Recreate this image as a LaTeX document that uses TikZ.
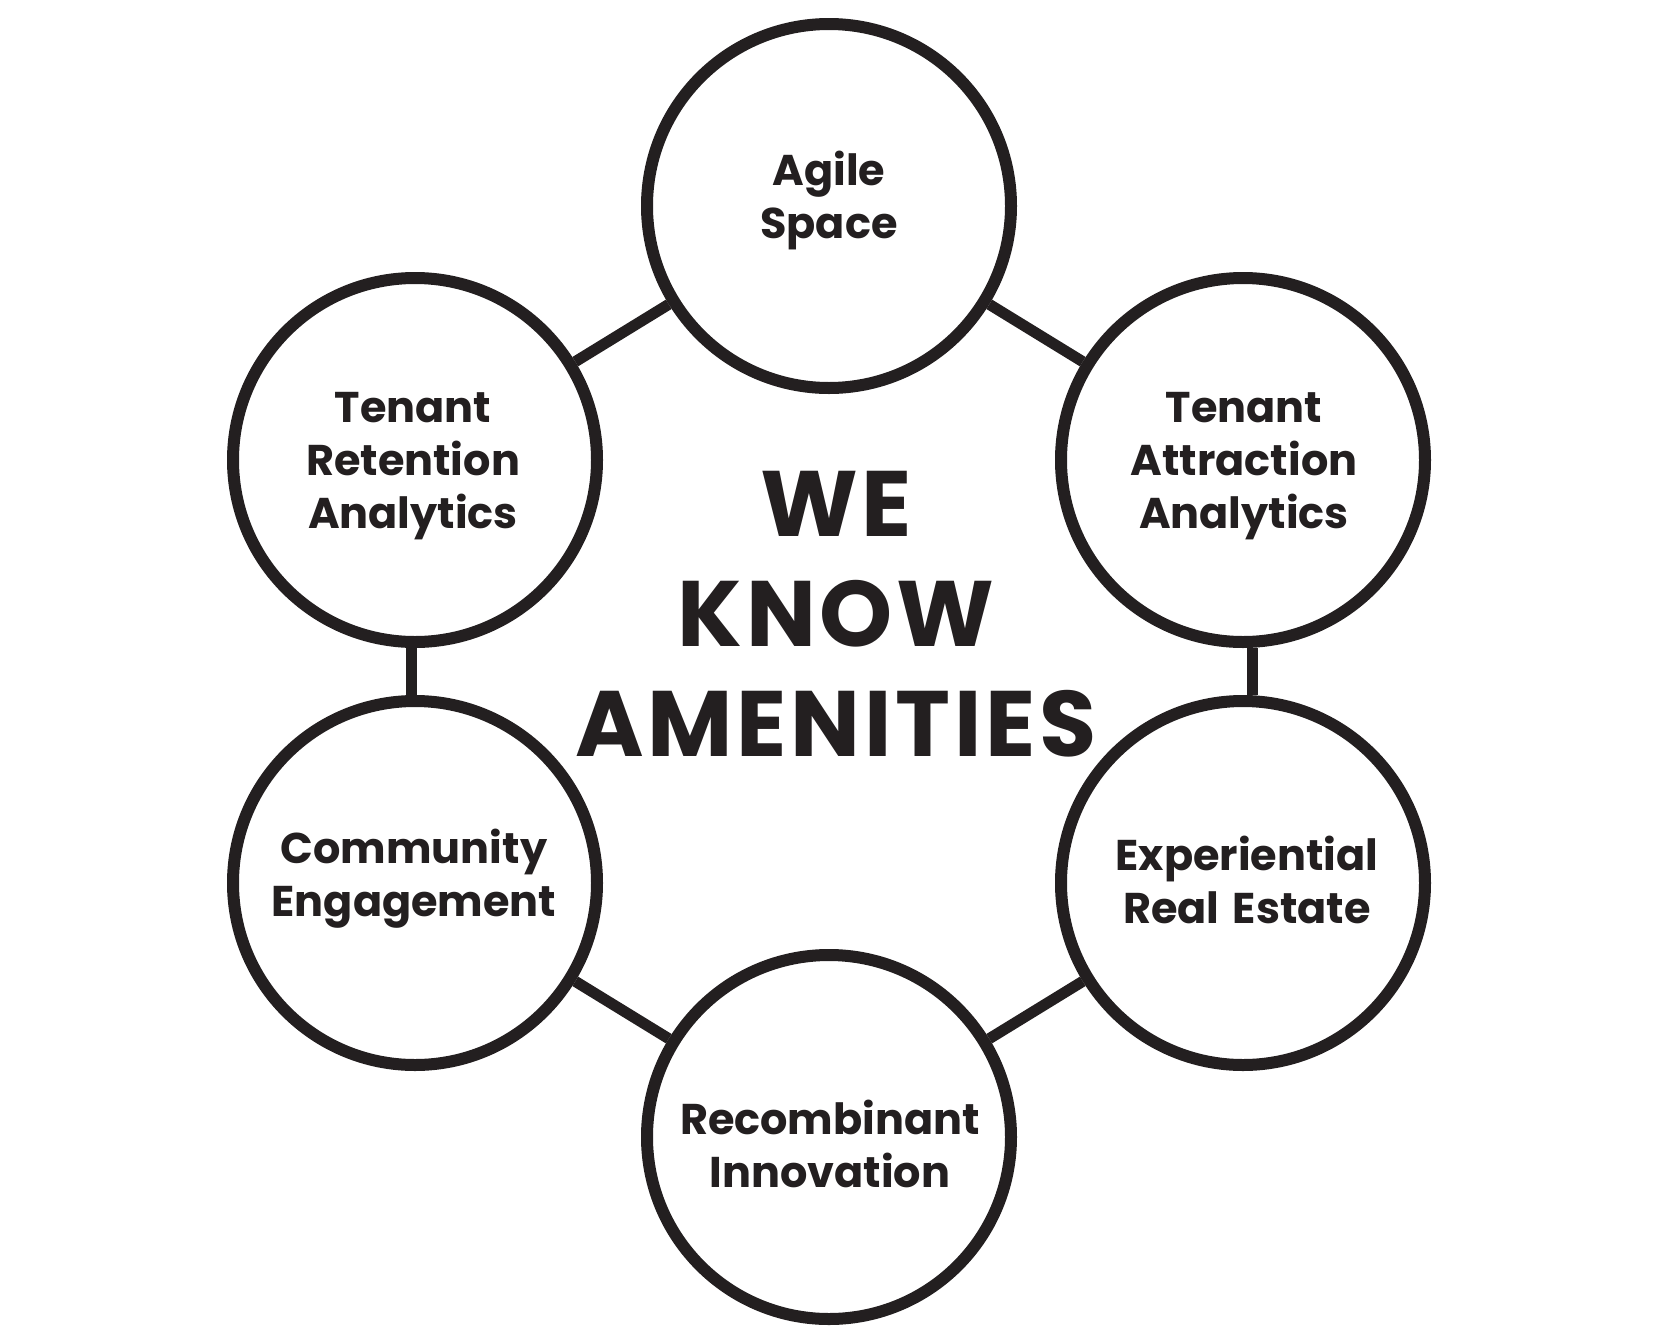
\documentclass[tikz,border=0pt]{standalone}
\usepackage{fontspec}
\setmainfont{Poppins}
\newfontfamily\titlefont{Poppins}[LetterSpace=4]
\definecolor{ink}{RGB}{35,31,32}
\tikzset{
  bubble/.style={circle, draw=ink, line width=12pt, minimum size=364pt, inner sep=0pt, fill=white},
  link/.style={draw=ink, line width=11pt},
  lbl/.style={font=\fontsize{43}{53}\selectfont\bfseries, align=center, anchor=base, inner sep=0pt, text=ink},
  big/.style={font=\titlefont\fontsize{93}{110}\selectfont\bfseries, align=center, anchor=base, inner sep=0pt, text=ink}
}
\begin{document}
\begin{tikzpicture}[x=1pt, y=-1pt]
\useasboundingbox (0,0) rectangle (1674,1339);
% circles
\node[bubble] (top) at (829,206) {};
\node[bubble] (ur)  at (1243,460) {};
\node[bubble] (lr)  at (1243,883) {};
\node[bubble] (bot) at (829,1137) {};
\node[bubble] (ll)  at (415,883) {};
\node[bubble] (ul)  at (415,460) {};
% connectors
\draw[link] (top) -- (ur);
\draw[link] ([xshift=9pt]ur.south) -- ([xshift=9pt]lr.north);
\draw[link] (lr) -- (bot);
\draw[link] (bot) -- (ll);
\draw[link] ([xshift=-4pt]ll.north) -- ([xshift=-4pt]ul.south);
\draw[link] (ul) -- (top);
% labels (anchored at the baseline of the last line)
\node[lbl] (tagile) at (829,238) {Agile\\Space};
\node[lbl] (tret) at (413,528) {Tenant\\Retention\\Analytics};
\node[lbl] (tatt) at (1244,528) {Tenant\\Attraction\\Analytics};
\node[lbl] (tcom) at (414,916) {Community\\Engagement};
\node[lbl] (texp) at (1247,923) {Experiential\\Real\hspace{0.1em} Estate};
\node[lbl] (trec) at (830,1187) {Recombinant\\Innovation};
\node[big] (title) at (836,756) {WE\\KNOW\\AMENITIES};
\end{tikzpicture}
\end{document}
